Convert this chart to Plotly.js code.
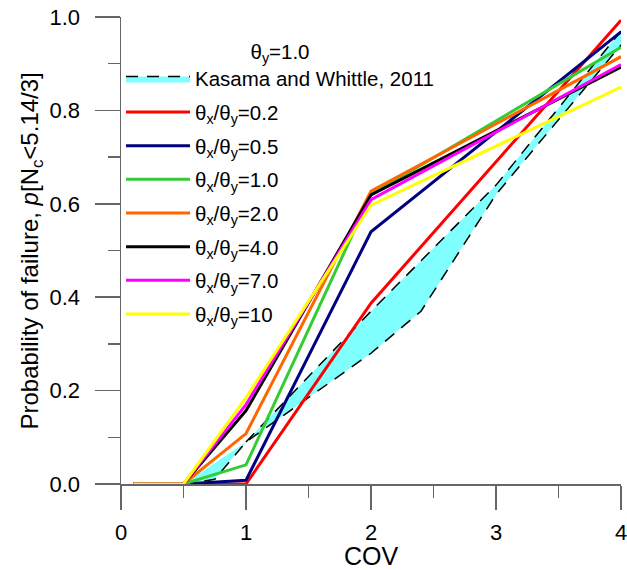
<!DOCTYPE html>
<html>
<head>
<meta charset="utf-8">
<script src="https://cdn.plot.ly/plotly-3.0.1.min.js"></script>
<style>
  html, body { margin: 0; padding: 0; background: #fff; }
  #chart { width: 627px; height: 570px; }
</style>
</head>
<body>
<div id="chart"></div>
<script>
// Probability of failure p[Nc < 5.14/3] against COV, θy = 1.0

// COV values where the simulations were run
const cov = [0.1, 0.5, 1, 2, 4];

// one series per anisotropy ratio θx/θy
const ratio02 = [0, 0, 0, 0.387, 0.993];
const ratio05 = [0, 0, 0.008, 0.54, 0.968];
const ratio1  = [0, 0, 0.041, 0.62, 0.935];
const ratio2  = [0, 0, 0.108, 0.627, 0.915];
const ratio4  = [0, 0, 0.157, 0.619, 0.893];
const ratio7  = [0, 0, 0.17, 0.609, 0.898];
const ratio10 = [0, 0, 0.185, 0.597, 0.85];

const ratioLabels = ['0.2', '0.5', '1.0', '2.0', '4.0', '7.0', '10'];

// Kasama and Whittle (2011) range: lower and upper bounds
const kwLowerCov = [0.5, 0.75, 1, 2, 2.4, 3, 4];
const kwLowerP   = [0, 0.01, 0.09, 0.28, 0.37, 0.62, 0.94];
const kwUpperCov = [1, 2, 3, 4];
const kwUpperP   = [0.09, 0.37, 0.64, 0.97];

const ratioSeries = [ratio02, ratio05, ratio1, ratio2, ratio4, ratio7, ratio10];
const ratioColors = ['#ff0000', '#000080', '#33cc33', '#ff6600', '#000000', '#ff00ff', '#ffff00'];

const FONT = 'Liberation Sans, Arial, Helvetica, sans-serif';
const AXIS = '#666666';

const traces = [];

// band: lower bound first, upper bound fills down to it
traces.push({
  x: kwLowerCov, y: kwLowerP,
  mode: 'lines', showlegend: false, hoverinfo: 'skip', legendgroup: 'kw',
  line: { color: '#000000', width: 1.5, dash: '12px,9px' }
});
traces.push({
  x: kwUpperCov, y: kwUpperP,
  mode: 'lines', name: 'Kasama and Whittle, 2011', legendgroup: 'kw',
  fill: 'tonexty', fillcolor: '#80ffff',
  line: { color: '#000000', width: 1.5, dash: '12px,9px' }
});

ratioSeries.forEach((vals, i) => {
  traces.push({
    x: cov, y: vals, mode: 'lines',
    legendgroup: 'r' + i,
    name: 'θ<sub>x</sub>/θ<sub>y</sub>=' + ratioLabels[i],
    line: { color: ratioColors[i], width: 3 }
  });
});

const layout = {
  width: 627, height: 570,
  margin: { l: 121, r: 6, t: 17, b: 86 },
  paper_bgcolor: '#ffffff', plot_bgcolor: '#ffffff',
  font: { family: FONT, color: '#000000' },
  showlegend: true,
  legend: {
    x: 0, y: 0.968, xanchor: 'left', yanchor: 'top',
    bgcolor: 'rgba(0,0,0,0)', borderwidth: 0,
    itemwidth: 64,
    tracegroupgap: 4,
    traceorder: 'grouped',
    font: { family: FONT, size: 20.5, color: '#000000' },
    title: { text: 'θ<sub>y</sub>=1.0', side: 'top center', font: { family: FONT, size: 20.5 } }
  },
  xaxis: {
    range: [0, 4], tick0: 0, dtick: 1,
    showline: true, linecolor: AXIS, linewidth: 1.5,
    ticks: 'outside', ticklen: 24, tickwidth: 1.5, tickcolor: AXIS,
    minor: { dtick: 0.5, ticks: 'outside', ticklen: 12, tickwidth: 1.5, tickcolor: AXIS, showgrid: false },
    showgrid: false, zeroline: false,
    tickfont: { family: FONT, size: 22 },
    ticklabelstandoff: 4,
    ticklabeloverflow: 'allow'
  },
  yaxis: {
    range: [0, 1], tick0: 0, dtick: 0.2, tickformat: '.1f',
    showline: true, linecolor: AXIS, linewidth: 1.5,
    ticks: 'outside', ticklen: 25, tickwidth: 1.5, tickcolor: AXIS,
    minor: { dtick: 0.1, ticks: 'outside', ticklen: 12, tickwidth: 1.5, tickcolor: AXIS, showgrid: false },
    showgrid: false, zeroline: false,
    tickfont: { family: FONT, size: 22 },
    ticklabelstandoff: 10
  },
  annotations: [{
    // y-axis title, centred on the plot height
    text: 'Probability of failure, <i>p</i>[N<sub>c</sub>&lt;5.14/3]',
    xref: 'paper', yref: 'paper', x: 0, y: 0.5,
    xanchor: 'center', yanchor: 'middle', xshift: -90, yshift: -1,
    textangle: -90, showarrow: false,
    font: { family: FONT, size: 24, color: '#000000' }
  }, {
    // x-axis title, below the tick labels
    text: 'COV',
    xref: 'paper', yref: 'paper', x: 0.5, y: 0,
    xanchor: 'center', yanchor: 'middle', yshift: -72, borderpad: 0,
    showarrow: false,
    font: { family: FONT, size: 25, color: '#000000' }
  }]
};

Plotly.newPlot('chart', traces, layout, { displayModeBar: false, staticPlot: true });
</script>
</body>
</html>
